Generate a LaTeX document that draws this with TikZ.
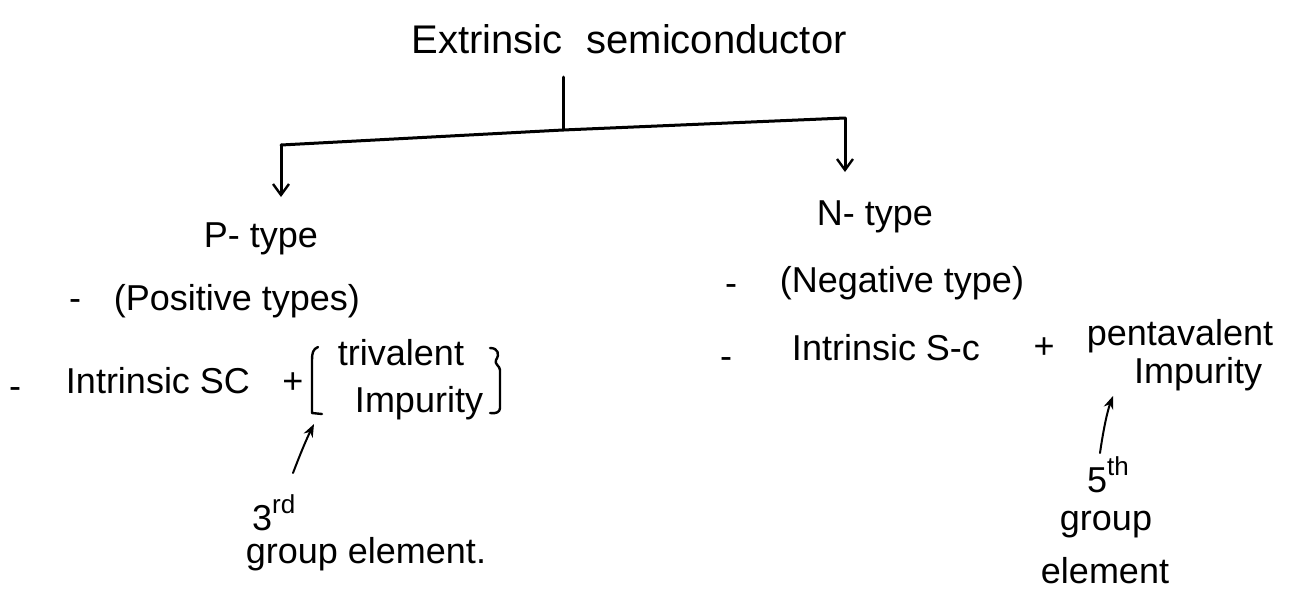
\documentclass[tikz,border=0pt]{standalone}
\usepackage{fontspec}
\setmainfont{Liberation Sans}
\usetikzlibrary{arrows.meta}
\newcommand{\hsup}[1]{\raisebox{0.45em}{\fontsize{26}{28}\selectfont #1}}
\begin{document}
\begin{tikzpicture}[x=1pt,y=-1pt,
  txt/.style={inner sep=0pt,anchor=base,font=\fontsize{36}{40}\selectfont},
  txtw/.style={inner sep=0pt,anchor=base west,font=\fontsize{36}{40}\selectfont},
  ttl/.style={inner sep=0pt,anchor=base,font=\fontsize{40}{44}\selectfont},
  pen/.style={line width=3pt,line cap=round,line join=round},
  treearrow/.style={pen,-{Straight Barb[length=11pt,width=16pt,line width=2.4pt]}},
  notearrow/.style={line width=2pt,line cap=round,-{Stealth[length=13pt,width=10pt]}},
  brk/.style={line width=2.4pt,line cap=round,line join=round}]
\useasboundingbox (0,0) rectangle (1290,603);
\fill[white] (0,0) rectangle (1290,603);

% title and tree
\node[ttl] (title) at (629,53) {Extrinsic\hspace{0.6em}semiconductor};
\coordinate (stemtop) at (563,77);
\coordinate (junction) at (563,130);
\coordinate (lend) at (281,145);
\coordinate (rend) at (845,118);
\coordinate (ltip) at (281,197);
\coordinate (rtip) at (845,172);
\draw[pen] (stemtop) -- (junction);
\draw[pen] (lend) -- (junction) -- (rend);
\draw[treearrow] (lend) -- (ltip);
\draw[treearrow] (rend) -- (rtip);

% P-type branch
\node[txt] (ptype) at (261,247) {P- type};
\node[txt] (pdash1) at (75,310) {-};
\node[txt] (ppos) at (237,310) {(Positive types)};
\node[txt] (pdash2) at (15,398) {-};
\node[txt] (pintr) at (158,393) {Intrinsic SC};
\node[txt,anchor=center] (pplus) at (293,383) {+};
\node[txt] (ptri) at (401,365) {trivalent};
\node[txt] (pimp) at (419,412) {Impurity};
\draw[brk] (318,347) .. controls (313,349) and (312,353) .. (312,360) -- (312,413) -- (322,414);
\draw[brk] (490,348) .. controls (498,348) and (500,354) .. (496,360) .. controls (494,364) and (500,366) .. (500,370) -- (500,408) .. controls (500,412) and (496,414) .. (490,413);
\coordinate (ptail) at (293,473);
\coordinate (phead) at (314,424);
\draw[notearrow] (ptail) .. controls (301,452) and (307,438) .. (phead);
\node[txtw] (p3rd) at (252,530) {3\hsup{rd}};
\node[txt] (pgroup) at (366,563) {group element.};

% N-type branch
\node[txt] (ntype) at (875,225) {N- type};
\node[txt] (ndash1) at (731,295) {-};
\node[txt] (nneg) at (902,292) {(Negative type)};
\node[txt] (ndash2) at (726,368) {-};
\node[txt] (nintr) at (886,360) {Intrinsic S-c};
\node[txt,anchor=center] (nplus) at (1044,348) {+};
\node[txt] (npenta) at (1180,345) {pentavalent};
\node[txt] (nimp) at (1198,383) {Impurity};
\coordinate (ntail) at (1100,453);
\coordinate (nhead) at (1113,396);
\draw[notearrow] (ntail) .. controls (1103,432) and (1107,412) .. (nhead);
\node[txtw] (n5th) at (1087,492) {5\hsup{th}};
\node[txt] (ngroup) at (1106,530) {group};
\node[txt] (nelem) at (1105,583) {element};
\end{tikzpicture}
\end{document}
